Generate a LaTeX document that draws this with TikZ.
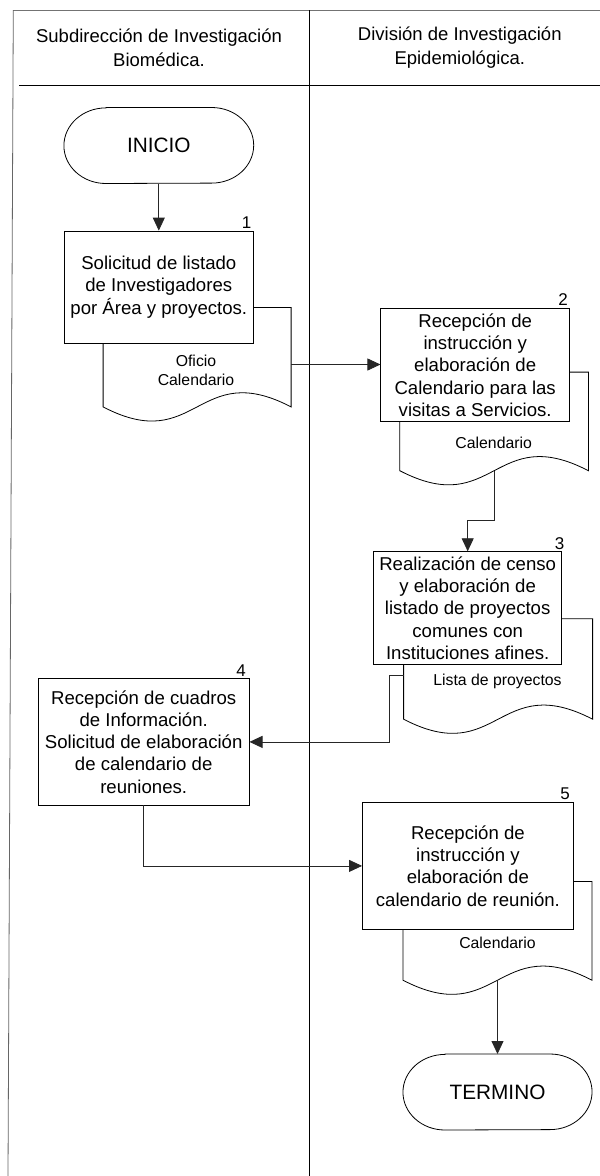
\documentclass[tikz,border=0pt]{standalone}
\usepackage{fontspec}
\setmainfont{Liberation Sans}
\usetikzlibrary{arrows.meta,calc}
\tikzset{
  box/.style={draw=black, fill=white, line width=0.8pt, inner sep=0pt, align=center,
    font=\fontsize{18.6}{22.3}\selectfont},
  term/.style={inner sep=0pt, align=center, font=\fontsize{20.8}{24}\selectfont},
  docframe/.style={inner sep=0pt, draw=none},
  docline/.style={draw=black, fill=white, line width=0.8pt},
  doctext/.style={font=\fontsize{15.8}{19}\selectfont, align=center, inner sep=0pt},
  num/.style={font=\fontsize{17}{20}\selectfont, inner sep=0pt},
  hdr/.style={font=\fontsize{18.5}{24}\selectfont, align=center, inner sep=0pt},
  conn/.style={draw=black!85, line width=0.8pt, -{Triangle[length=13pt,width=12pt]}},
  frameline/.style={line width=0.8pt}
}
\newcommand{\docpath}[1]{%
  \path[docline] (#1.north west) -- (#1.north east) -- (#1.south east)
    .. controls ($(#1.south)+(0,-49)$) and ($(#1.south)+(0,49)$) .. (#1.south west) -- cycle;}
\newcommand{\termpath}[1]{%
  \path[docline] ($(#1.north west)+(42,0)$) -- ($(#1.north east)+(-42,0)$)
    arc[start angle=90, end angle=-90, x radius=42pt, y radius=37.8pt]
    -- ($(#1.south west)+(42,0)$)
    arc[start angle=270, end angle=90, x radius=42pt, y radius=37.8pt] -- cycle;}
\begin{document}
\begin{tikzpicture}[x=1pt,y=-1pt]
\useasboundingbox (0,0) rectangle (600,1176);
\fill[white] (0,0) rectangle (600,1176);

% frame
\draw[frameline, draw=black!55] (13.3,10) -- (600,10);
\draw[frameline, draw=black!60] (13.3,10) -- (8,1176);
\draw[frameline] (19,85.7) -- (600,85.7);
\draw[frameline] (309.2,10) -- (309.2,1176);

% headers
\node[hdr] (h1) at (159,48) {Subdirección de Investigación\\Biomédica.};
\node[hdr] (h2) at (459.8,48) {División de Investigación\\Epidemiológica.};

% documents
\node[docframe, minimum width=187.6pt, minimum height=99pt] (d1) at (197.1,357.2) {};
\docpath{d1}
\node[docframe, minimum width=188.2pt, minimum height=98.2pt] (d2) at (494.1,421.4) {};
\docpath{d2}
\node[docframe, minimum width=188.6pt, minimum height=100pt] (d3) at (498.1,669) {};
\docpath{d3}
\node[docframe, minimum width=188.6pt, minimum height=98.3pt] (d5) at (497.5,930.85) {};
\docpath{d5}

\node[doctext] (t1) at (196,370) {Oficio\\Calendario};
\node[doctext] (t2) at (493.7,442.7) {Calendario};
\node[doctext] (t3) at (497.5,681) {Lista de proyectos};
\node[doctext] (t5) at (497.5,942.7) {Calendario};

% terminals
\node[term, minimum width=189.4pt, minimum height=75.6pt] (ini) at (158.8,145.5) {};
\termpath{ini}
\node[term] at (ini.center) {INICIO};
\node[term, minimum width=188.7pt, minimum height=75.6pt] (fin) at (497.5,1092) {};
\termpath{fin}
\node[term] at (fin.center) {TERMINO};

% process boxes
\node[box, minimum width=189pt, minimum height=112pt] (b1) at (158.8,287)
  {Solicitud de listado\\de Investigadores\\por Área y proyectos.};
\node[box, minimum width=188.7pt, minimum height=113.4pt] (b2) at (475.2,365)
  {Recepción de\\instrucción y\\elaboración de\\Calendario para las\\visitas a Servicios.};
\node[box, minimum width=188.3pt, minimum height=112.6pt] (b3) at (467.7,608)
  {Realización de censo\\y elaboración de\\listado de proyectos\\comunes con\\Instituciones afines.};
\node[box, minimum width=210.8pt, minimum height=126.3pt] (b4) at (143.7,741.9)
  {Recepción de cuadros\\de Información.\\Solicitud de elaboración\\de calendario de\\reuniones.};
\node[box, minimum width=210.9pt, minimum height=126.3pt] (b5) at (467.9,865.9)
  {Recepción de\\instrucción y\\elaboración de\\calendario de reunión.};

% numbers
\node[num] (n1) at (246.5,222.7) {1};
\node[num] (n2) at (563,300) {2};
\node[num] (n3) at (559.5,544) {3};
\node[num] (n4) at (241,670.7) {4};
\node[num] (n5) at (565,794) {5};

% connectors
\draw[conn] (ini.south) -- (b1.north);
\coordinate (d1e) at ($(d1.north east)+(0,57)$);
\draw[conn] (d1e) -- (d1e -| b2.west);
\draw[conn] (d2.south) |- ($(b3.north)+(0,-31)$) -- (b3.north);
\coordinate (d3w) at ($(d3.north west)+(0,57)$);
\draw[conn] (d3w) -- ++(-14.6,0) |- (b4.east);
\draw[conn] (b4.south) |- (b5.west);
\draw[conn] (d5.south) -- (fin.north);
\end{tikzpicture}
\end{document}
